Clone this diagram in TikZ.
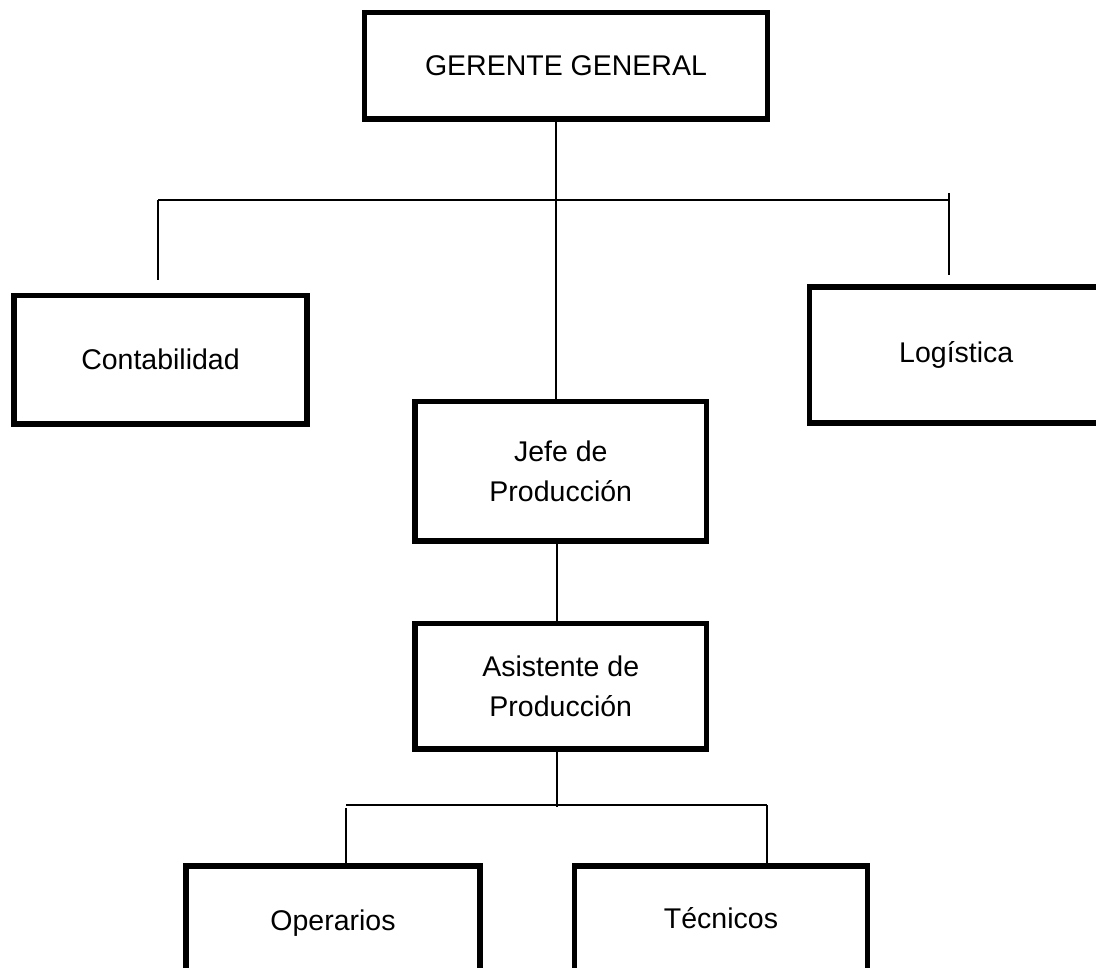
\documentclass[tikz,border=0pt]{standalone}
\usepackage{fontspec}
\setmainfont{Liberation Sans}
\begin{document}
\begin{tikzpicture}[x=1pt,y=-1pt,
  unit/.style={draw=black,line width=5.5pt,rectangle,fill=white,align=center,
    inner sep=0pt,font=\fontsize{28.5}{40}\selectfont},
  link/.style={draw=black,line width=2pt}]
\useasboundingbox (0,0) rectangle (1096,968);
\clip (0,0) rectangle (1096,968);

% boxes
\node[unit,minimum width=403pt,minimum height=106.5pt] (ger) at (566,65.75) {GERENTE GENERAL};
\node[unit,minimum width=293pt,minimum height=128.5pt] (cont) at (160.5,359.75) {Contabilidad};
\node[unit,minimum width=293.5pt,minimum height=136pt] (log) at (956.25,355) {Log\'istica};
\node[unit,minimum width=291.5pt,minimum height=139.5pt] (jefe) at (560.75,471.25) {Jefe de\\Producci\'on};
\node[unit,minimum width=291.5pt,minimum height=125.5pt] (asis) at (560.75,686) {Asistente de\\Producci\'on};
\node[unit,minimum width=294pt,minimum height=114pt] (op) at (333,923) {Operarios};
% a deep invisible strut lifts the label a little inside its box
\node[unit,minimum width=293pt,minimum height=114pt] (tec) at (721,923) {T\'ecnicos\rule[-10pt]{0pt}{0pt}};

% branching points of the upper level
\coordinate (bus) at (556,200.5);
\coordinate (busL) at (158,200.5);
\coordinate (busR) at (950,200.5);
\coordinate (legL) at (158,280);
\coordinate (legRtop) at (949,193);
\coordinate (legR) at (949,275);

\draw[link] (ger.south -| bus) -- (jefe.north -| bus);
\draw[link] (busL) -- (busR);
\draw[link] (busL) -- (legL);
\draw[link] (legRtop) -- (legR);

% production chain
\coordinate (mid) at (556.5,0);
\draw[link] (jefe.south -| mid) -- (asis.north -| mid);

% lower level
\coordinate (split) at (557,807);
\coordinate (barL) at (346,805);
\coordinate (barR) at (767,805);
\coordinate (dropL) at (346,808);
\draw[link] (asis.south -| split) -- (split);
\draw[link] (barL) -- (barR);
\draw[link] (dropL) -- (op.north -| dropL);
\draw[link] (barR) -- (tec.north -| barR);
\end{tikzpicture}
\end{document}
